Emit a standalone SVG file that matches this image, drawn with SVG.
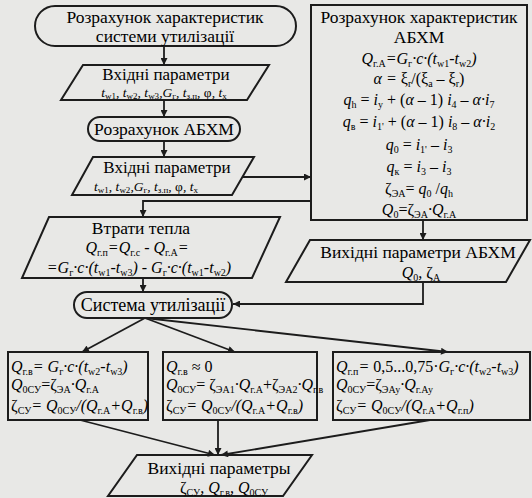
<svg xmlns="http://www.w3.org/2000/svg" width="532" height="498" viewBox="0 0 532 498">
<defs>
<marker id="ah" viewBox="0 0 10 10" refX="10" refY="5" markerWidth="8" markerHeight="7" markerUnits="userSpaceOnUse" orient="auto"><path d="M0,0 L10,5 L0,10 z" fill="#1c1c1c"/></marker>
</defs>
<rect width="532" height="498" fill="#e8e8e6"/>
<g id="connectors" fill="none" stroke="#1c1c1c" stroke-width="1.8" marker-end="url(#ah)">
<line x1="164" y1="46" x2="164" y2="65"/>
<line x1="164" y1="100" x2="164" y2="117"/>
<line x1="164" y1="141" x2="164" y2="157"/>
<line x1="243" y1="177" x2="311" y2="177"/>
<polyline points="311,201 143,201 143,217"/>
<line x1="143" y1="278" x2="143" y2="292"/>
<line x1="423" y1="220" x2="423" y2="240"/>
<polyline points="423,282 423,304 233,304"/>
<line x1="145" y1="318" x2="82" y2="352"/>
<line x1="145" y1="318" x2="235" y2="352"/>
<line x1="145" y1="318" x2="448" y2="352"/>
<line x1="80" y1="420" x2="215" y2="455"/>
<line x1="218" y1="420" x2="218" y2="455"/>
<line x1="430" y1="420" x2="221" y2="455"/>
</g>
<g id="start">
<rect fill="none" stroke="#1c1c1c" stroke-width="2" x="35" y="6" width="261" height="40" rx="20"/>
<text style="font-family:'Liberation Serif',serif" font-size="17.5" text-anchor="middle" x="165" y="23">Розрахунок характеристик</text>
<text style="font-family:'Liberation Serif',serif" font-size="17.5" text-anchor="middle" x="165" y="42">системи утилізації</text>
</g>
<g id="input1">
<polygon fill="none" stroke="#1c1c1c" stroke-width="2" points="83,65 269,65 247,100 61,100"/>
<text style="font-family:'Liberation Serif',serif" font-size="17" text-anchor="middle" x="166" y="80">Вхідні параметри</text>
<text style="font-family:'Liberation Serif',serif" font-size="13.5" font-style="italic" text-anchor="middle" x="164" y="97">t<tspan font-size="9" font-style="normal" baseline-shift="-2">w1</tspan>, t<tspan font-size="9" font-style="normal" baseline-shift="-2">w2</tspan>, t<tspan font-size="9" font-style="normal" baseline-shift="-2">w3</tspan>,G<tspan font-size="9" font-style="normal" baseline-shift="-2">г</tspan>, t<tspan font-size="9" font-style="normal" baseline-shift="-2">з.п</tspan>, <tspan font-style="normal">φ</tspan>, t<tspan font-size="9" font-style="normal" baseline-shift="-2">х</tspan></text>
</g>
<g id="abhm">
<rect fill="none" stroke="#1c1c1c" stroke-width="2" x="88" y="117" width="152" height="24" rx="12"/>
<text style="font-family:'Liberation Serif',serif" font-size="17.5" text-anchor="middle" x="164" y="135">Розрахунок АБХМ</text>
</g>
<g id="input2">
<polygon fill="none" stroke="#1c1c1c" stroke-width="2" points="93,157 254,157 232,195 72,195"/>
<text style="font-family:'Liberation Serif',serif" font-size="17" text-anchor="middle" x="167" y="173">Вхідні параметри</text>
<text style="font-family:'Liberation Serif',serif" font-size="13.5" font-style="italic" text-anchor="middle" x="146" y="191">t<tspan font-size="9" font-style="normal" baseline-shift="-2">w1</tspan>, t<tspan font-size="9" font-style="normal" baseline-shift="-2">w2</tspan>,G<tspan font-size="9" font-style="normal" baseline-shift="-2">г</tspan>, t<tspan font-size="9" font-style="normal" baseline-shift="-2">з.п</tspan>, <tspan font-style="normal">φ</tspan>, t<tspan font-size="9" font-style="normal" baseline-shift="-2">х</tspan></text>
</g>
<g id="losses">
<polygon fill="none" stroke="#1c1c1c" stroke-width="2" points="49,217 280,217 252,278 22,278"/>
<text style="font-family:'Liberation Serif',serif" font-size="17.5" text-anchor="middle" x="141" y="234">Втрати тепла</text>
<text style="font-family:'Liberation Serif',serif" font-size="16" font-style="italic" text-anchor="middle" x="137" y="253">Q<tspan font-size="10" font-style="normal" baseline-shift="-3">г.п</tspan>=Q<tspan font-size="10" font-style="normal" baseline-shift="-3">г.с</tspan> - Q<tspan font-size="10" font-style="normal" baseline-shift="-3">г.А</tspan>=</text>
<text style="font-family:'Liberation Serif',serif" font-size="16" font-style="italic" text-anchor="middle" x="139" y="273">=G<tspan font-size="10" font-style="normal" baseline-shift="-3">г</tspan>·c·(t<tspan font-size="10" font-style="normal" baseline-shift="-3">w1</tspan>-t<tspan font-size="10" font-style="normal" baseline-shift="-3">w3</tspan>) - G<tspan font-size="10" font-style="normal" baseline-shift="-3">г</tspan>·c·(t<tspan font-size="10" font-style="normal" baseline-shift="-3">w1</tspan>-t<tspan font-size="10" font-style="normal" baseline-shift="-3">w2</tspan>)</text>
</g>
<g id="system">
<rect fill="none" stroke="#1c1c1c" stroke-width="2" x="74" y="292" width="158" height="26" rx="13"/>
<text style="font-family:'Liberation Serif',serif" font-size="18" text-anchor="middle" x="153" y="311">Система утилізації</text>
</g>
<g id="abhm-calc">
<rect fill="none" stroke="#1c1c1c" stroke-width="2" x="311" y="5" width="216" height="215"/>
<text style="font-family:'Liberation Serif',serif" font-size="17.5" text-anchor="middle" x="419" y="23">Розрахунок характеристик</text>
<text style="font-family:'Liberation Serif',serif" font-size="17.5" text-anchor="middle" x="419" y="43">АБХМ</text>
<text style="font-family:'Liberation Serif',serif" font-size="16" font-style="italic" text-anchor="middle" x="419" y="64">Q<tspan font-size="10" font-style="normal" baseline-shift="-3">г.А</tspan>=G<tspan font-size="10" font-style="normal" baseline-shift="-3">г</tspan>·c·(t<tspan font-size="10" font-style="normal" baseline-shift="-3">w1</tspan>-t<tspan font-size="10" font-style="normal" baseline-shift="-3">w2</tspan>)</text>
<text style="font-family:'Liberation Serif',serif" font-size="16" font-style="italic" text-anchor="middle" x="419" y="84">α = <tspan font-style="normal">ξ</tspan><tspan font-size="10" font-style="normal" baseline-shift="-3">r</tspan><tspan font-style="normal">/(ξ</tspan><tspan font-size="10" font-style="normal" baseline-shift="-3">a</tspan><tspan font-style="normal"> – ξ</tspan><tspan font-size="10" font-style="normal" baseline-shift="-3">r</tspan><tspan font-style="normal">)</tspan></text>
<text style="font-family:'Liberation Serif',serif" font-size="16" font-style="italic" text-anchor="middle" x="419" y="105">q<tspan font-size="10" font-style="normal" baseline-shift="-3">h</tspan><tspan font-style="normal"> = </tspan>i<tspan font-size="10" font-style="normal" baseline-shift="-3">y</tspan><tspan font-style="normal"> + (</tspan>α<tspan font-style="normal"> – 1) </tspan>i<tspan font-size="10" font-style="normal" baseline-shift="-3">4</tspan><tspan font-style="normal"> – </tspan>α·i<tspan font-size="10" font-style="normal" baseline-shift="-3">7</tspan></text>
<text style="font-family:'Liberation Serif',serif" font-size="16" font-style="italic" text-anchor="middle" x="419" y="127">q<tspan font-size="10" font-style="normal" baseline-shift="-3">в</tspan><tspan font-style="normal"> = </tspan>i<tspan font-size="10" font-style="normal" baseline-shift="-3">1'</tspan><tspan font-style="normal"> + (</tspan>α<tspan font-style="normal"> – 1) </tspan>i<tspan font-size="10" font-style="normal" baseline-shift="-3">8</tspan><tspan font-style="normal"> – </tspan>α·i<tspan font-size="10" font-style="normal" baseline-shift="-3">2</tspan></text>
<text style="font-family:'Liberation Serif',serif" font-size="16" font-style="italic" text-anchor="middle" x="419" y="150">q<tspan font-size="10" font-style="normal" baseline-shift="-3">0</tspan><tspan font-style="normal"> = </tspan>i<tspan font-size="10" font-style="normal" baseline-shift="-3">1'</tspan><tspan font-style="normal"> – </tspan>i<tspan font-size="10" font-style="normal" baseline-shift="-3">3</tspan></text>
<text style="font-family:'Liberation Serif',serif" font-size="16" font-style="italic" text-anchor="middle" x="419" y="172">q<tspan font-size="10" font-style="normal" baseline-shift="-3">к</tspan><tspan font-style="normal"> = </tspan>i<tspan font-size="10" font-style="normal" baseline-shift="-3">3</tspan><tspan font-style="normal"> – </tspan>i<tspan font-size="10" font-style="normal" baseline-shift="-3">3</tspan></text>
<text style="font-family:'Liberation Serif',serif" font-size="16" font-style="italic" text-anchor="middle" x="419" y="194"><tspan font-style="normal">ζ</tspan><tspan font-size="10" font-style="normal" baseline-shift="-3">ЭА</tspan><tspan font-style="normal">= </tspan>q<tspan font-size="10" font-style="normal" baseline-shift="-3">0</tspan><tspan font-style="normal"> /</tspan>q<tspan font-size="10" font-style="normal" baseline-shift="-3">h</tspan></text>
<text style="font-family:'Liberation Serif',serif" font-size="16" font-style="italic" text-anchor="middle" x="419" y="215">Q<tspan font-size="10" font-style="normal" baseline-shift="-3">0</tspan><tspan font-style="normal">=ζ</tspan><tspan font-size="10" font-style="normal" baseline-shift="-3">ЭА</tspan>·Q<tspan font-size="10" font-style="normal" baseline-shift="-3">г.А</tspan></text>
</g>
<g id="abhm-out">
<polygon fill="none" stroke="#1c1c1c" stroke-width="2" points="310,240 530,240 506,282 286,282"/>
<text style="font-family:'Liberation Serif',serif" font-size="17.5" text-anchor="middle" x="418" y="258">Вихідні параметри АБХМ</text>
<text style="font-family:'Liberation Serif',serif" font-size="16" font-style="italic" text-anchor="middle" x="421" y="278">Q<tspan font-size="10" font-style="normal" baseline-shift="-3">0</tspan>, <tspan font-style="normal">ζ</tspan><tspan font-size="10" font-style="normal" baseline-shift="-3">А</tspan></text>
</g>
<g id="case1">
<rect fill="none" stroke="#1c1c1c" stroke-width="2" x="8" y="352" width="140" height="68"/>
<text style="font-family:'Liberation Serif',serif" font-size="16" font-style="italic" x="11" y="372">Q<tspan font-size="10" font-style="normal" baseline-shift="-3">г.в</tspan>= G<tspan font-size="10" font-style="normal" baseline-shift="-3">г</tspan>·c·(t<tspan font-size="10" font-style="normal" baseline-shift="-3">w2</tspan>-t<tspan font-size="10" font-style="normal" baseline-shift="-3">w3</tspan>)</text>
<text style="font-family:'Liberation Serif',serif" font-size="16" font-style="italic" x="11" y="390">Q<tspan font-size="10" font-style="normal" baseline-shift="-3">0СУ</tspan><tspan font-style="normal">=ζ</tspan><tspan font-size="10" font-style="normal" baseline-shift="-3">ЭА</tspan>·Q<tspan font-size="10" font-style="normal" baseline-shift="-3">г.А</tspan></text>
<text style="font-family:'Liberation Serif',serif" font-size="16" font-style="italic" x="11" y="411"><tspan font-style="normal">ζ</tspan><tspan font-size="10" font-style="normal" baseline-shift="-3">СУ</tspan>= Q<tspan font-size="10" font-style="normal" baseline-shift="-3">0СУ</tspan>/(Q<tspan font-size="10" font-style="normal" baseline-shift="-3">г.А</tspan>+Q<tspan font-size="10" font-style="normal" baseline-shift="-3">г.в</tspan>)</text>
</g>
<g id="case2">
<rect fill="none" stroke="#1c1c1c" stroke-width="2" x="163" y="352" width="154" height="68"/>
<text style="font-family:'Liberation Serif',serif" font-size="16" font-style="italic" x="166" y="372">Q<tspan font-size="10" font-style="normal" baseline-shift="-3">г.в</tspan><tspan font-style="normal"> ≈ 0</tspan></text>
<text style="font-family:'Liberation Serif',serif" font-size="16" font-style="italic" x="166" y="390">Q<tspan font-size="10" font-style="normal" baseline-shift="-3">0СУ</tspan><tspan font-style="normal">= ζ</tspan><tspan font-size="10" font-style="normal" baseline-shift="-3">ЭА1</tspan>·Q<tspan font-size="10" font-style="normal" baseline-shift="-3">г.А</tspan><tspan font-style="normal">+ζ</tspan><tspan font-size="10" font-style="normal" baseline-shift="-3">ЭА2</tspan>·Q<tspan font-size="10" font-style="normal" baseline-shift="-3">г.в</tspan></text>
<text style="font-family:'Liberation Serif',serif" font-size="16" font-style="italic" x="166" y="411"><tspan font-style="normal">ζ</tspan><tspan font-size="10" font-style="normal" baseline-shift="-3">СУ</tspan>= Q<tspan font-size="10" font-style="normal" baseline-shift="-3">0СУ</tspan>/(Q<tspan font-size="10" font-style="normal" baseline-shift="-3">г.А</tspan>+Q<tspan font-size="10" font-style="normal" baseline-shift="-3">г.в</tspan>)</text>
</g>
<g id="case3">
<rect fill="none" stroke="#1c1c1c" stroke-width="2" x="333" y="352" width="197" height="68"/>
<text style="font-family:'Liberation Serif',serif" font-size="16" font-style="italic" x="336" y="372">Q<tspan font-size="10" font-style="normal" baseline-shift="-3">г.п</tspan>= <tspan font-style="normal">0,5...0,75·</tspan>G<tspan font-size="10" font-style="normal" baseline-shift="-3">г</tspan>·c·(t<tspan font-size="10" font-style="normal" baseline-shift="-3">w2</tspan>-t<tspan font-size="10" font-style="normal" baseline-shift="-3">w3</tspan>)</text>
<text style="font-family:'Liberation Serif',serif" font-size="16" font-style="italic" x="336" y="390">Q<tspan font-size="10" font-style="normal" baseline-shift="-3">0СУ</tspan><tspan font-style="normal">=ζ</tspan><tspan font-size="10" font-style="normal" baseline-shift="-3">ЭАу</tspan>·Q<tspan font-size="10" font-style="normal" baseline-shift="-3">г.Ау</tspan></text>
<text style="font-family:'Liberation Serif',serif" font-size="16" font-style="italic" x="336" y="411"><tspan font-style="normal">ζ</tspan><tspan font-size="10" font-style="normal" baseline-shift="-3">СУ</tspan>= Q<tspan font-size="10" font-style="normal" baseline-shift="-3">0СУ</tspan>/(Q<tspan font-size="10" font-style="normal" baseline-shift="-3">г.А</tspan>+Q<tspan font-size="10" font-style="normal" baseline-shift="-3">г.п</tspan>)</text>
</g>
<g id="output">
<polygon fill="none" stroke="#1c1c1c" stroke-width="2" points="137,455 312,455 283,496 108,496"/>
<text style="font-family:'Liberation Serif',serif" font-size="17.5" text-anchor="middle" x="219" y="474">Вихідні параметры</text>
<text style="font-family:'Liberation Serif',serif" font-size="16" font-style="italic" text-anchor="middle" x="224" y="493"><tspan font-style="normal">ζ</tspan><tspan font-size="10" font-style="normal" baseline-shift="-3">СУ</tspan>, Q<tspan font-size="10" font-style="normal" baseline-shift="-3">г.в</tspan>, Q<tspan font-size="10" font-style="normal" baseline-shift="-3">0СУ</tspan></text>
</g>
</svg>
